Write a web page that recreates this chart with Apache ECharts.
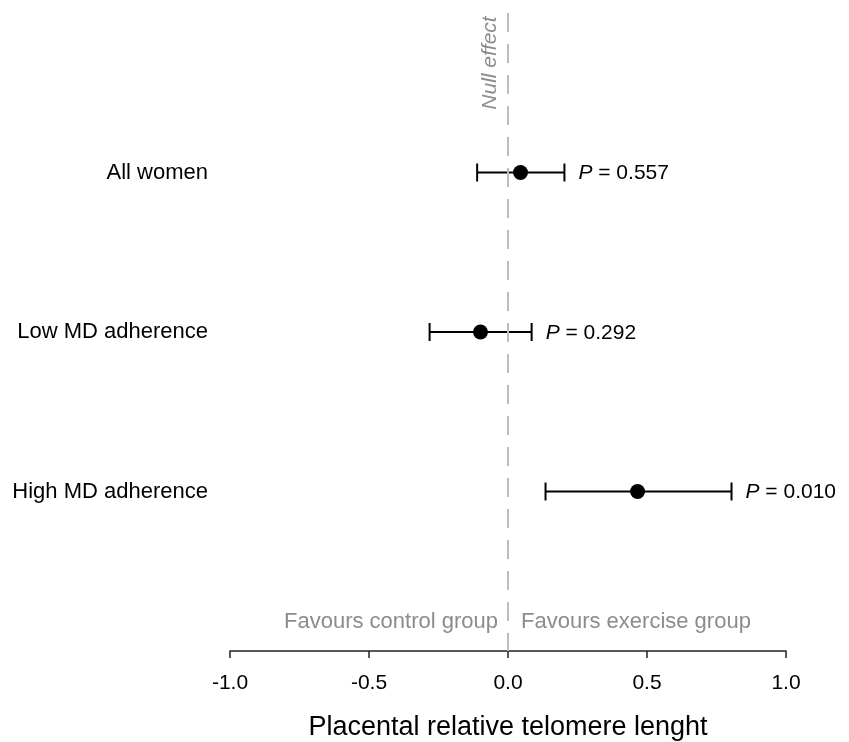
<!DOCTYPE html>
<html>
<head>
<meta charset="utf-8">
<script src="https://cdn.jsdelivr.net/npm/echarts@6/dist/echarts.min.js"></script>
<style>
  html, body { margin: 0; padding: 0; background: #fff; }
  #chart { width: 849px; height: 742px; }
</style>
</head>
<body>
<div id="chart"></div>
<script>
// Subgroups, top to bottom
const groups = ['All women', 'Low MD adherence', 'High MD adherence'];
// Effect estimate with 95% CI on placental relative telomere length
const estimate = [0.045, -0.099, 0.466];
const ciLower = [-0.111, -0.282, 0.135];
const ciUpper = [0.203, 0.085, 0.804];
const pValues = ['0.557', '0.292', '0.010'];
// X axis ticks
const xTicks = [-1.0, -0.5, 0.0, 0.5, 1.0];

const FONT = 'Liberation Sans, Arial, sans-serif';
const GREY_TEXT = '#8c8c8c';

// Padded category list so the rows sit evenly between the top and the axis
const yCats = [''].concat(groups, ['']);
const rowIndex = groups.map((g, i) => i + 1);

const chart = echarts.init(document.getElementById('chart'));

const ciData = groups.map((g, i) => [ciLower[i], ciUpper[i], rowIndex[i], i]);
const estData = groups.map((g, i) => [estimate[i], rowIndex[i]]);

chart.setOption({
  animation: false,
  backgroundColor: '#fff',
  grid: { left: 230, right: 63, top: 13, bottom: 91, outerBoundsMode: 'none', containLabel: false },
  xAxis: {
    type: 'value',
    min: xTicks[0],
    max: xTicks[xTicks.length - 1],
    interval: 0.5,
    axisLine: { show: true, lineStyle: { color: '#222', width: 1.5 } },
    axisTick: { show: true, length: 7, lineStyle: { color: '#222', width: 1.5 } },
    splitLine: { show: false },
    axisLabel: {
      margin: 22,
      fontFamily: FONT,
      fontSize: 21,
      color: '#000',
      formatter: v => v.toFixed(1)
    },
    name: 'Placental relative telomere lenght',
    nameLocation: 'middle',
    nameGap: 63,
    nameTextStyle: { fontFamily: FONT, fontSize: 27, color: '#000' }
  },
  yAxis: {
    type: 'category',
    data: yCats,
    inverse: true,
    boundaryGap: false,
    axisLine: { show: false },
    axisTick: { show: false },
    splitLine: { show: false },
    axisLabel: { margin: 22, fontFamily: FONT, fontSize: 22, color: '#000' }
  },
  series: [
    {
      // Confidence interval whiskers with end caps and the P value beside them
      type: 'custom',
      data: ciData,
      renderItem: (params, api) => {
        const a = api.coord([api.value(0), api.value(2)]);
        const b = api.coord([api.value(1), api.value(2)]);
        const cap = 9;
        const style = { stroke: '#000', lineWidth: 2 };
        return {
          type: 'group',
          children: [
            { type: 'line', shape: { x1: a[0], y1: a[1], x2: b[0], y2: b[1] }, style },
            { type: 'line', shape: { x1: a[0], y1: a[1] - cap, x2: a[0], y2: a[1] + cap }, style },
            { type: 'line', shape: { x1: b[0], y1: b[1] - cap, x2: b[0], y2: b[1] + cap }, style },
            {
              type: 'text',
              x: b[0] + 14,
              y: b[1] + 1,
              style: {
                text: '{i|P} = ' + pValues[api.value(3)],
                fill: '#000',
                font: '21px ' + FONT,
                verticalAlign: 'middle',
                align: 'left',
                rich: { i: { fontStyle: 'italic', fontSize: 21, fontFamily: FONT, fill: '#000' } }
              }
            }
          ]
        };
      },
      z: 3,
      markLine: {
        silent: true,
        symbol: 'none',
        lineStyle: { color: '#bdbdbd', type: [19, 12], width: 2 },
        label: { show: false },
        data: [{ xAxis: 0 }]
      }
    },
    {
      // Point estimates
      type: 'scatter',
      data: estData,
      symbol: 'circle',
      symbolSize: 15,
      itemStyle: { color: '#000', opacity: 1 },
      z: 4
    }
  ]
});

// Null-effect label along the reference line and direction captions above the axis
function placeAnnotations() {
  const zero = chart.convertToPixel({ xAxisIndex: 0 }, 0);
  const top = chart.convertToPixel({ yAxisIndex: 0 }, 0);
  const base = chart.convertToPixel({ yAxisIndex: 0 }, yCats.length - 1);
  const y = base - 29;
  chart.setOption({
    graphic: [
      {
        type: 'text', x: zero - 18, y: top + 50, rotation: Math.PI / 2,
        style: { text: 'Null effect', fill: GREY_TEXT, font: 'italic 21px ' + FONT, align: 'center', verticalAlign: 'middle' }
      },
      {
        type: 'text', x: zero - 10, y: y,
        style: { text: 'Favours control group', fill: GREY_TEXT, font: '22px ' + FONT, align: 'right', verticalAlign: 'middle' }
      },
      {
        type: 'text', x: zero + 13, y: y,
        style: { text: 'Favours exercise group', fill: GREY_TEXT, font: '22px ' + FONT, align: 'left', verticalAlign: 'middle' }
      }
    ]
  });
}
placeAnnotations();
</script>
</body>
</html>
